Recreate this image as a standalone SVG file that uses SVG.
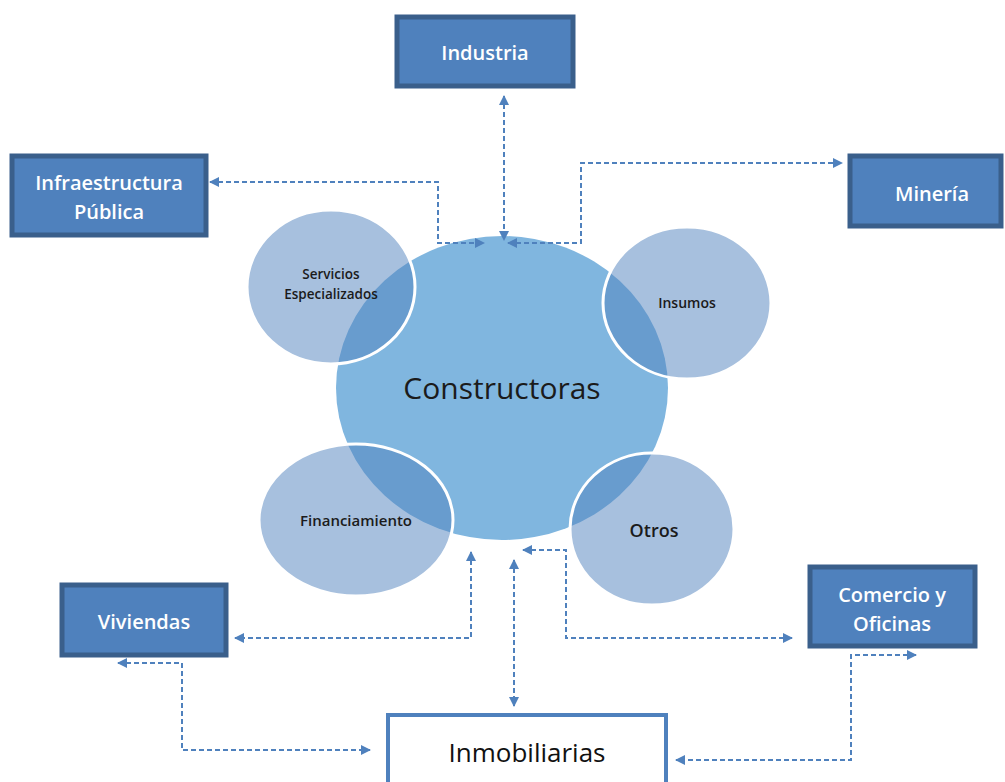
<svg xmlns="http://www.w3.org/2000/svg" width="1005" height="782" viewBox="0 0 1005 782">
  <style>
    .box { fill: #4f81bd; stroke: #3a5f8b; stroke-width: 5; }
    .boxText { font-family: "Open Sans", Lato, sans-serif; font-size: 20px; font-weight: 600; fill: #ffffff; text-anchor: middle; }
    .sat { fill: #4f81bd; fill-opacity: 0.5; stroke: #ffffff; stroke-width: 3; }
    .satText { font-family: "Open Sans", Lato, sans-serif; font-weight: 600; fill: #1b1b1b; text-anchor: middle; }
    .link { fill: none; stroke: #4f81bd; stroke-width: 2; stroke-dasharray: 5 3; marker-start: url(#head); marker-end: url(#head); }
  </style>
  <defs>
    <marker id="head" viewBox="0 0 10 10" refX="9" refY="5" markerWidth="10" markerHeight="10" markerUnits="userSpaceOnUse" orient="auto-start-reverse">
      <path d="M0,0 L10,5 L0,10 z" fill="#4f81bd"/>
    </marker>
  </defs>
  <rect width="1005" height="782" fill="#ffffff"/>

  <!-- core and satellite circles -->
  <g id="constructoras">
    <ellipse cx="502" cy="388" rx="166" ry="152" fill="#80b6df"/>
  </g>
  <g id="servicios">
    <ellipse class="sat" cx="331" cy="287" rx="84" ry="77"/>
    <text class="satText" x="331" y="279" font-size="13.5">Servicios</text>
    <text class="satText" x="331" y="299" font-size="13.5">Especializados</text>
  </g>
  <g id="insumos">
    <ellipse class="sat" cx="687" cy="303" rx="84" ry="76"/>
    <text class="satText" x="687" y="308" font-size="14">Insumos</text>
  </g>
  <g id="financiamiento">
    <ellipse class="sat" cx="356" cy="520" rx="97" ry="76"/>
    <text class="satText" x="356" y="526" font-size="15">Financiamiento</text>
  </g>
  <g id="otros">
    <ellipse class="sat" cx="652" cy="529" rx="82" ry="76"/>
    <text class="satText" x="654" y="537" font-size="18">Otros</text>
  </g>
  <g id="constructoras-label">
    <text x="502" y="399" font-family="'Open Sans', Lato, sans-serif" font-size="30" fill="#1b1b1b" text-anchor="middle">Constructoras</text>
  </g>

  <!-- sector boxes -->
  <g id="industria">
    <rect class="box" x="397" y="17" width="176" height="69"/>
    <text class="boxText" x="485" y="60">Industria</text>
  </g>
  <g id="infraestructura">
    <rect class="box" x="12" y="156" width="194" height="79"/>
    <text class="boxText" x="109" y="190">Infraestructura</text>
    <text class="boxText" x="109" y="219">Pública</text>
  </g>
  <g id="mineria">
    <rect class="box" x="850" y="156" width="151" height="70"/>
    <text class="boxText" x="932" y="201">Minería</text>
  </g>
  <g id="viviendas">
    <rect class="box" x="62" y="585" width="164" height="70"/>
    <text class="boxText" x="144" y="629">Viviendas</text>
  </g>
  <g id="comercio">
    <rect class="box" x="810" y="567" width="165" height="79"/>
    <text class="boxText" x="892" y="602">Comercio y</text>
    <text class="boxText" x="892" y="631">Oficinas</text>
  </g>
  <g id="inmobiliarias">
    <rect x="388" y="715" width="278" height="80" fill="#ffffff" stroke="#4f81bd" stroke-width="4"/>
    <text x="527" y="762" font-family="'Open Sans', Lato, sans-serif" font-size="26" fill="#111111" text-anchor="middle">Inmobiliarias</text>
  </g>

  <!-- dashed two-way connectors -->
  <g id="connectors">
    <path class="link" d="M504,96 V240"/>
    <path class="link" d="M210,182 H438 V243 H484"/>
    <path class="link" d="M508,243 H581 V163 H842"/>
    <path class="link" d="M471,552 V638 H235"/>
    <path class="link" d="M514,560 V706"/>
    <path class="link" d="M523,550 H566 V638 H792"/>
    <path class="link" d="M118,663 H182 V750 H370"/>
    <path class="link" d="M916,655 H851 V760 H676"/>
  </g>
</svg>
